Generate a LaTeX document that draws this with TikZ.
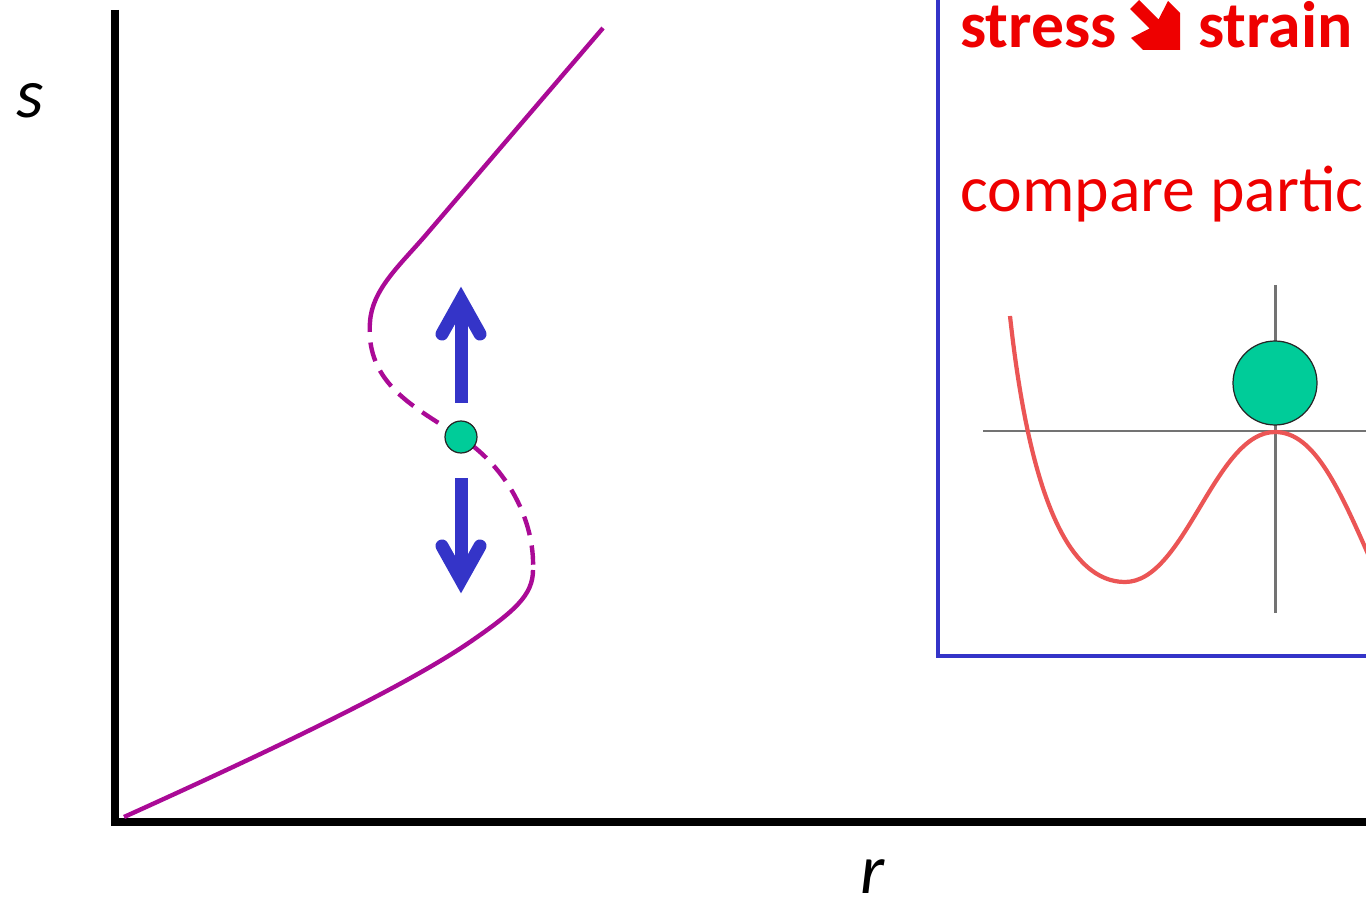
\documentclass[tikz,border=0pt]{standalone}
\usepackage{fontspec}
\setmainfont{Carlito}
\definecolor{magc}{RGB}{170,10,150}
\definecolor{bluec}{RGB}{52,52,200}
\definecolor{greenc}{RGB}{0,204,153}
\definecolor{redtxt}{RGB}{238,0,0}
\definecolor{redcurve}{RGB}{235,85,85}
\definecolor{grayax}{RGB}{115,115,115}
\begin{document}
\begin{tikzpicture}[x=0.02cm,y=-0.02cm,
  axis/.style={line width=4pt,black,line cap=butt,line join=miter},
  scurve/.style={line width=2.5pt,magc},
  dashpart/.style={dash pattern=on 11pt off 6pt,dash phase=14pt},
  bluearrow/.style={line width=7.4pt,bluec},
  ball/.style={circle,draw=black!85,line width=0.7pt,fill=greenc,inner sep=0pt},
  axlabel/.style={inner sep=0pt,font=\fontsize{40}{44}\selectfont\itshape},
  redbold/.style={inner sep=0pt,text=redtxt,font=\fontsize{37.4}{42}\selectfont\bfseries},
  redreg/.style={inner sep=0pt,text=redtxt,font=\fontsize{37.4}{42}\selectfont},
  inset/.style={line width=2.3pt,bluec,line join=miter},
  insetaxis/.style={line width=1.7pt,grayax},
  potential/.style={line width=2.4pt,redcurve}]
\useasboundingbox (0,0) rectangle (1366,905);
\clip (0,0) rectangle (1366,905);

% main axes
\draw[axis] (115,10) -- (115,822) -- (1366,822);
\node[axlabel,anchor=base] (slabel) at (30,118) {s};
\node[axlabel,anchor=base] (rlabel) at (873,893) {r};

% S-shaped curve
\draw[scurve] (124,817) .. controls (250,760) and (400,690) .. (470,642)
  .. controls (515,611) and (533,595) .. (533,570);
\draw[scurve,dashpart] (533,570) .. controls (535,520) and (507,468) .. (462,438)
  .. controls (417,408) and (365,385) .. (370,322);
\draw[scurve] (370,322) .. controls (372,290) and (399,266) .. (425,236) -- (603,28);

% blue arrows
\draw[bluearrow,line cap=butt] (461,403) -- (461,305);
\draw[bluearrow,line cap=round,line join=miter] (442,334) -- (461,300) -- (480,334);
\draw[bluearrow,line cap=butt] (461,478) -- (461,575);
\draw[bluearrow,line cap=round,line join=miter] (442,546) -- (461,580) -- (480,546);

% small ball
\node[ball,minimum size=0.64cm] (smallball) at (461,437) {};

% inset box
\draw[inset] (938,-20) -- (938,656) -- (1400,656);
\node[redbold,anchor=base west] (stress) at (960,48) {stress};
\fill[redtxt] (1180,50) -- (1143,50) -- (1131,38) -- (1149.5,28.5) -- (1130,9)
  -- (1139,0) -- (1158.5,19.5) -- (1168,1) -- (1180,13) -- cycle;
\node[redbold,anchor=base west] (strain) at (1198,48) {strain};
\node[redreg,anchor=base west] (compare) at (960,212) {compare partic};

% inset potential
\draw[insetaxis] (983,431) -- (1380,431);
\draw[insetaxis] (1275,285) -- (1275,613);
\draw[potential] (1010,316) .. controls (1030,500) and (1070,582) .. (1125,582)
  .. controls (1185,582) and (1215,432) .. (1275,432)
  .. controls (1315,432) and (1340,490) .. (1375,570);
\node[ball,minimum size=1.68cm] (bigball) at (1275,383) {};
\end{tikzpicture}
\end{document}
